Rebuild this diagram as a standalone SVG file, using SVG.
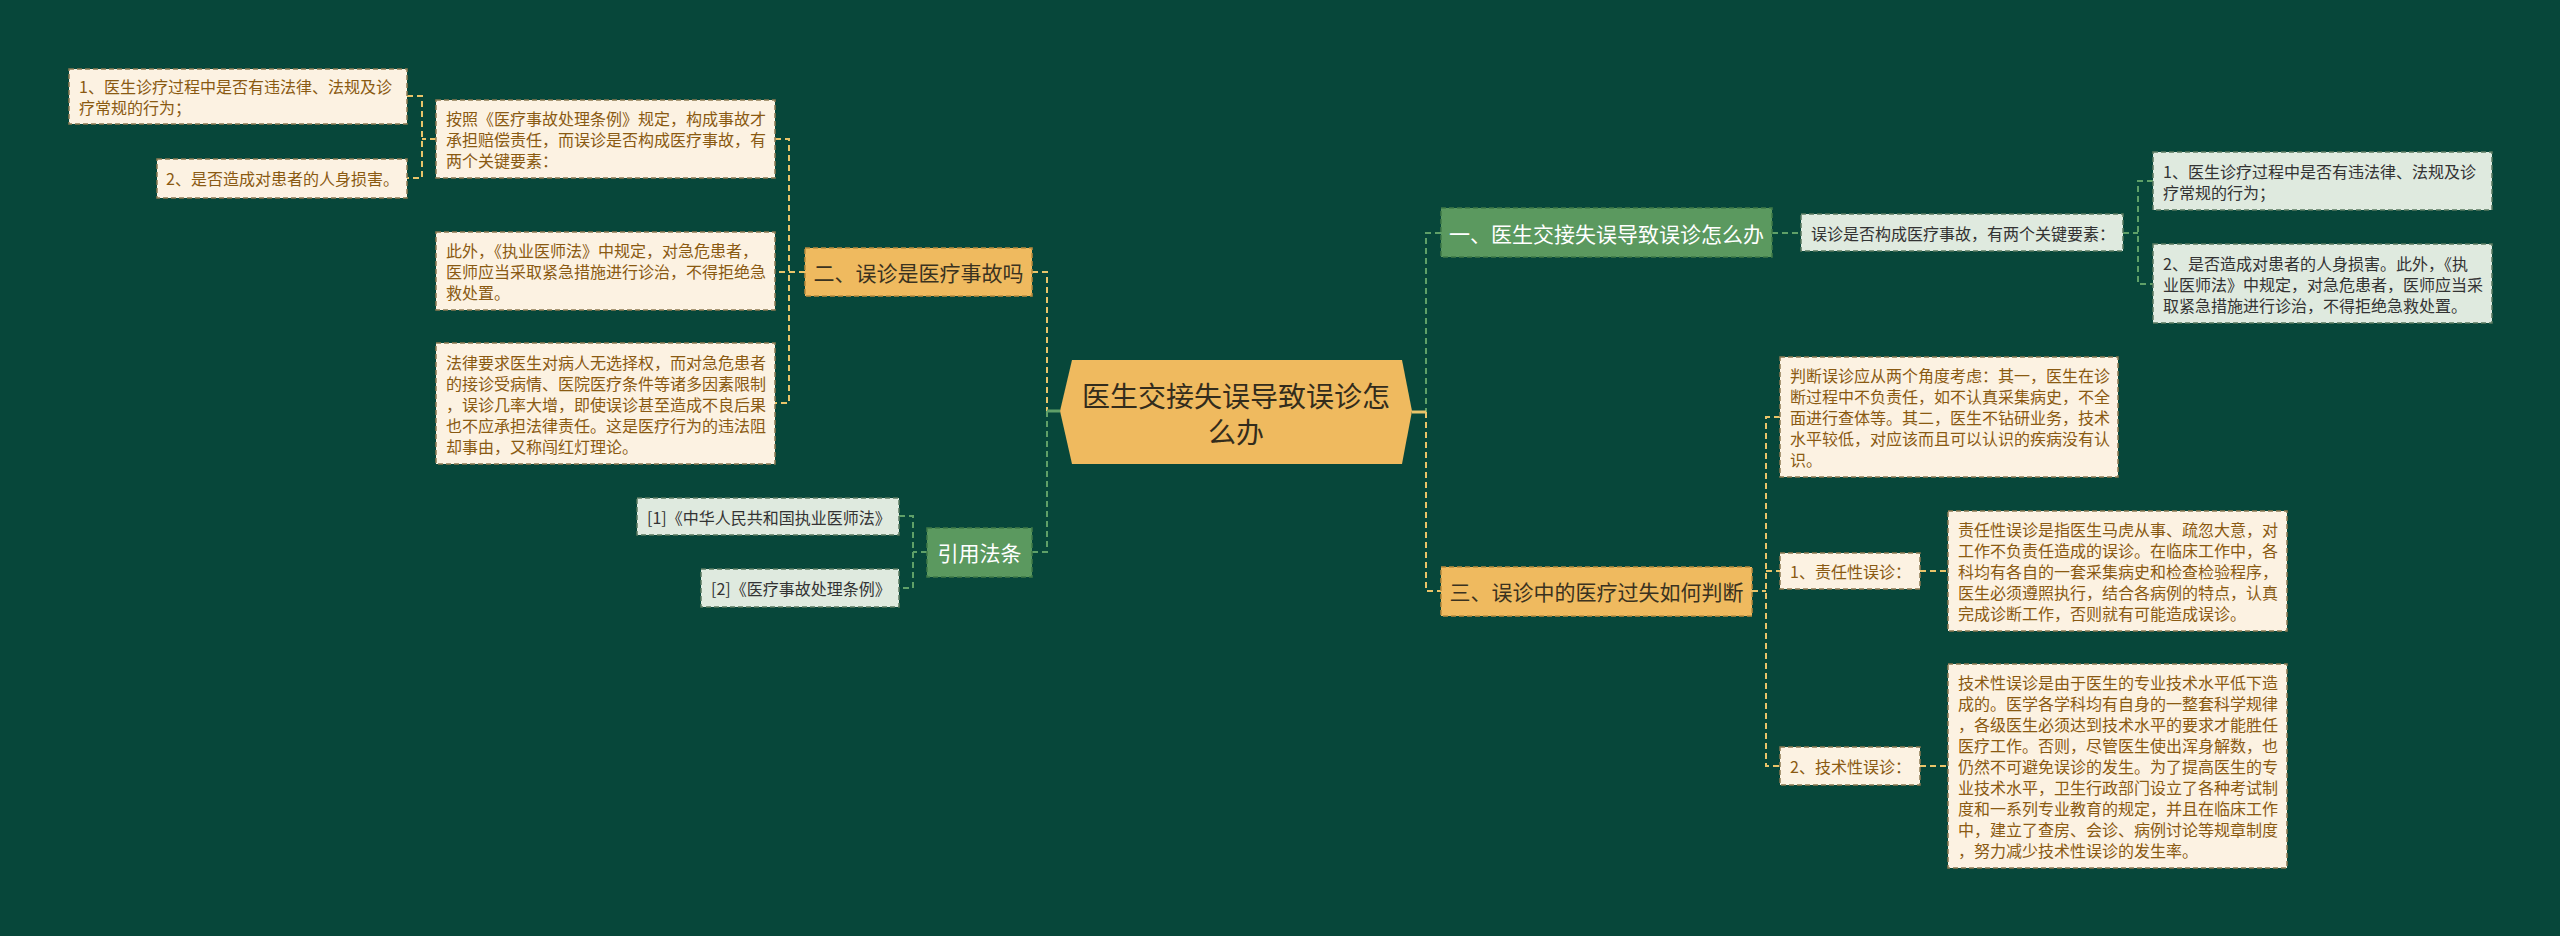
<svg xmlns="http://www.w3.org/2000/svg" width="2560" height="936" viewBox="0 0 2560 936">
<style>
text{font-family:"Noto Sans CJK SC","Noto Sans",sans-serif}
.bg{fill:#07473a}
.cream{fill:#fcf2e2;stroke:#8c7a52;stroke-width:1.5;stroke-dasharray:5 3}
.lgreen{fill:#dfeadf;stroke:#5a7a60;stroke-width:1.5;stroke-dasharray:5 3}
.orange{fill:#efba5f;stroke:#b98a3c;stroke-width:1.5;stroke-dasharray:5 3}
.green{fill:#5b995f;stroke:#3f7a47;stroke-width:1.5;stroke-dasharray:5 3}
.tb{font-size:16px;fill:#8a5a12}
.td{font-size:16px;fill:#333}
.tm{font-size:21px;text-anchor:middle;dominant-baseline:central}
.tw{fill:#fff}
.tk{fill:#3a3220}
.ly{fill:none;stroke:#e9c46a;stroke-width:2;stroke-dasharray:6 4}
.lg{fill:none;stroke:#5fa068;stroke-width:2;stroke-dasharray:6 4}
.sy{fill:none;stroke:#e9c46a;stroke-width:3}
.sg{fill:none;stroke:#5fa068;stroke-width:3}
</style>
<rect class="bg" x="0" y="0" width="2560" height="936"/>
<g id="connectors">
<path class="ly" d="M1032,272 H1047 V411"/>
<path class="lg" d="M1047,411 V552 H1032"/>
<path class="sg" d="M1047,411 H1060"/>
<path class="lg" d="M1441,233 H1426 V412"/>
<path class="ly" d="M1426,412 V591 H1441"/>
<path class="sy" d="M1412,412 H1426"/>
<path class="ly" d="M805,272 H775"/>
<path class="ly" d="M775,139 H789 V403 H775"/>
<path class="ly" d="M436,139 H422"/>
<path class="ly" d="M407,96 H422 V178 H407"/>
<path class="lg" d="M927,552 H913"/>
<path class="lg" d="M899,516 H913 V588 H899"/>
<path class="lg" d="M1772,233 H1801"/>
<path class="lg" d="M2123,233 H2138"/>
<path class="lg" d="M2153,181 H2138 V284 H2153"/>
<path class="ly" d="M1752,591 H1766"/>
<path class="ly" d="M1780,417 H1766 V766 H1780"/>
<path class="ly" d="M1766,571 H1780"/>
<path class="ly" d="M1920,571 H1948"/>
<path class="ly" d="M1920,766 H1948"/>
</g>
<g id="root">
<polygon points="1060,411 1072,360 1402,360 1412,411 1402,464 1072,464" fill="#efba5f"/>
<text x="1236" y="395" font-size="28" text-anchor="middle" dominant-baseline="central" fill="#332c1c">医生交接失误导致误诊怎</text>
<text x="1236" y="431" font-size="28" text-anchor="middle" dominant-baseline="central" fill="#332c1c">么办</text>
</g>
<g id="n1">
<rect class="green" x="1441" y="208" width="331" height="49"/>
<text class="tm tw" x="1606.5" y="233">一、医生交接失误导致误诊怎么办</text>
</g>
<g id="n1a">
<rect class="lgreen" x="1801" y="214" width="322" height="37"/>
<text class="td" x="1811" y="233" dominant-baseline="central">误诊是否构成医疗事故，有两个关键要素：</text>
</g>
<g id="n1a1">
<rect class="lgreen" x="2153" y="152" width="339" height="58"/>
<text class="td" dominant-baseline="central"><tspan x="2163" y="170.5">1、医生诊疗过程中是否有违法律、法规及诊</tspan><tspan x="2163" y="191.5">疗常规的行为；</tspan></text>
</g>
<g id="n1a2">
<rect class="lgreen" x="2153" y="244" width="339" height="79"/>
<text class="td" dominant-baseline="central"><tspan x="2163" y="262.5">2、是否造成对患者的人身损害。此外，《执</tspan><tspan x="2163" y="283.5">业医师法》中规定，对急危患者，医师应当采</tspan><tspan x="2163" y="304.5">取紧急措施进行诊治，不得拒绝急救处置。</tspan></text>
</g>
<g id="n3">
<rect class="orange" x="1441" y="567" width="311" height="49"/>
<text class="tm tk" x="1596.5" y="591">三、误诊中的医疗过失如何判断</text>
</g>
<g id="n3a">
<rect class="cream" x="1780" y="357" width="338" height="120"/>
<text class="tb" dominant-baseline="central"><tspan x="1790" y="375">判断误诊应从两个角度考虑：其一，医生在诊</tspan><tspan x="1790" y="396">断过程中不负责任，如不认真采集病史，不全</tspan><tspan x="1790" y="417">面进行查体等。其二，医生不钻研业务，技术</tspan><tspan x="1790" y="438">水平较低，对应该而且可以认识的疾病没有认</tspan><tspan x="1790" y="459">识。</tspan></text>
</g>
<g id="n3b">
<rect class="cream" x="1780" y="553" width="140" height="36"/>
<text class="tb" x="1790" y="571" dominant-baseline="central">1、责任性误诊：</text>
</g>
<g id="n3b1">
<rect class="cream" x="1948" y="511" width="339" height="120"/>
<text class="tb" dominant-baseline="central"><tspan x="1958" y="529">责任性误诊是指医生马虎从事、疏忽大意，对</tspan><tspan x="1958" y="550">工作不负责任造成的误诊。在临床工作中，各</tspan><tspan x="1958" y="571">科均有各自的一套采集病史和检查检验程序，</tspan><tspan x="1958" y="592">医生必须遵照执行，结合各病例的特点，认真</tspan><tspan x="1958" y="613">完成诊断工作，否则就有可能造成误诊。</tspan></text>
</g>
<g id="n3c">
<rect class="cream" x="1780" y="747" width="140" height="38"/>
<text class="tb" x="1790" y="766" dominant-baseline="central">2、技术性误诊：</text>
</g>
<g id="n3c1">
<rect class="cream" x="1948" y="664" width="339" height="204"/>
<text class="tb" dominant-baseline="central"><tspan x="1958" y="682">技术性误诊是由于医生的专业技术水平低下造</tspan><tspan x="1958" y="703">成的。医学各学科均有自身的一整套科学规律</tspan><tspan x="1958" y="724">，各级医生必须达到技术水平的要求才能胜任</tspan><tspan x="1958" y="745">医疗工作。否则，尽管医生使出浑身解数，也</tspan><tspan x="1958" y="766">仍然不可避免误诊的发生。为了提高医生的专</tspan><tspan x="1958" y="787">业技术水平，卫生行政部门设立了各种考试制</tspan><tspan x="1958" y="808">度和一系列专业教育的规定，并且在临床工作</tspan><tspan x="1958" y="829">中，建立了查房、会诊、病例讨论等规章制度</tspan><tspan x="1958" y="850">，努力减少技术性误诊的发生率。</tspan></text>
</g>
<g id="n2">
<rect class="orange" x="805" y="248" width="227" height="48"/>
<text class="tm tk" x="918.5" y="272">二、误诊是医疗事故吗</text>
</g>
<g id="n2a">
<rect class="cream" x="436" y="100" width="339" height="78"/>
<text class="tb" dominant-baseline="central"><tspan x="446" y="118">按照《医疗事故处理条例》规定，构成事故才</tspan><tspan x="446" y="139">承担赔偿责任，而误诊是否构成医疗事故，有</tspan><tspan x="446" y="160">两个关键要素：</tspan></text>
</g>
<g id="n2a1">
<rect class="cream" x="69" y="69" width="338" height="55"/>
<text class="tb" dominant-baseline="central"><tspan x="79" y="86">1、医生诊疗过程中是否有违法律、法规及诊</tspan><tspan x="79" y="107">疗常规的行为；</tspan></text>
</g>
<g id="n2a2">
<rect class="cream" x="157" y="159" width="250" height="39"/>
<text class="tb" x="166" y="178" dominant-baseline="central">2、是否造成对患者的人身损害。</text>
</g>
<g id="n2b">
<rect class="cream" x="436" y="232" width="339" height="78"/>
<text class="tb" dominant-baseline="central"><tspan x="446" y="250">此外，《执业医师法》中规定，对急危患者，</tspan><tspan x="446" y="271">医师应当采取紧急措施进行诊治，不得拒绝急</tspan><tspan x="446" y="292">救处置。</tspan></text>
</g>
<g id="n2c">
<rect class="cream" x="436" y="343" width="339" height="121"/>
<text class="tb" dominant-baseline="central"><tspan x="446" y="361.5">法律要求医生对病人无选择权，而对急危患者</tspan><tspan x="446" y="382.5">的接诊受病情、医院医疗条件等诸多因素限制</tspan><tspan x="446" y="403.5">，误诊几率大增，即使误诊甚至造成不良后果</tspan><tspan x="446" y="424.5">也不应承担法律责任。这是医疗行为的违法阻</tspan><tspan x="446" y="445.5">却事由，又称闯红灯理论。</tspan></text>
</g>
<g id="n4">
<rect class="green" x="927" y="528" width="105" height="49"/>
<text class="tm tw" x="979.5" y="552">引用法条</text>
</g>
<g id="n4a">
<rect class="lgreen" x="637" y="498" width="262" height="37"/>
<text class="td" x="647" y="516.5" dominant-baseline="central">[1]《中华人民共和国执业医师法》</text>
</g>
<g id="n4b">
<rect class="lgreen" x="701" y="569" width="198" height="38"/>
<text class="td" x="711" y="588" dominant-baseline="central">[2]《医疗事故处理条例》</text>
</g>
</svg>
